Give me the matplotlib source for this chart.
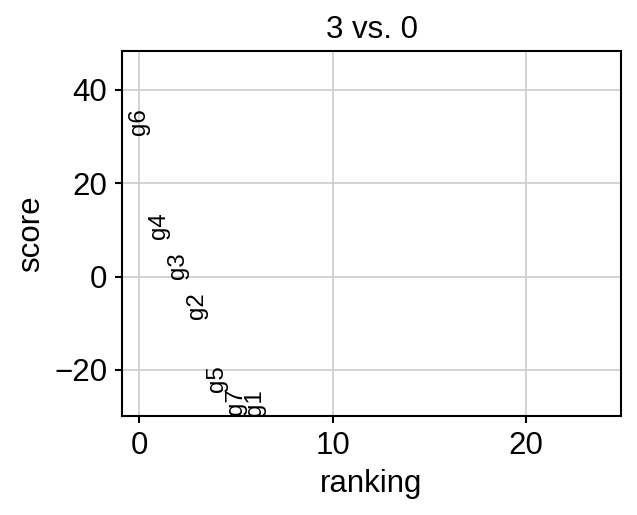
import matplotlib
matplotlib.use("Agg")
import matplotlib.pyplot as plt

# gene names in rank order and their scores
genes = ["g6", "g4", "g3", "g2", "g5", "g7", "g1"]
scores = [30.3, 8.0, -0.6, -9.2, -24.7, -29.6, -29.9]
n_genes = 25

plt.rcParams["font.family"] = ["Liberation Sans", "DejaVu Sans"]
plt.rcParams["font.size"] = 15

fig = plt.figure(figsize=(637 / 150, 515 / 150), dpi=150)
ax = fig.add_axes([122 / 637, 1 - 416 / 515, 499 / 637, 365 / 515])

for ig, (g, s) in enumerate(zip(genes, scores)):
    ax.text(ig, s, g, rotation="vertical", va="bottom", ha="center", fontsize=11.5)

ymin, ymax = min(scores), max(scores)
ymax += 0.3 * (ymax - ymin)
ax.set_ylim(ymin, ymax)
ax.set_xlim(-0.9, n_genes - 0.1)

ax.set_title("3 vs. 0", fontsize=15)
ax.set_xlabel("ranking")
ax.set_ylabel("score")
ax.grid(True, color="#cccccc", linewidth=0.8)
ax.set_axisbelow(True)
ax.tick_params(width=1.0, length=3.5)
for sp in ax.spines.values():
    sp.set_linewidth(1.0)

fig.savefig("out.png", dpi=150)
